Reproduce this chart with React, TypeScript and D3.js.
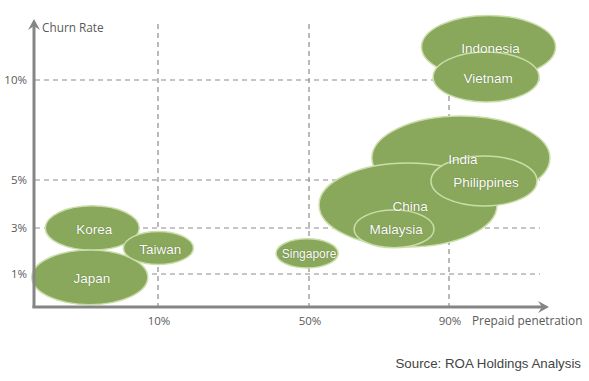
import React from "react";
import * as d3 from "d3";

const countries = ["Indonesia", "Vietnam", "Korea", "Japan", "Taiwan", "Singapore", "India", "China", "Philippines", "Malaysia"];
const prepaid = [101.3, 100.6, 4.7, 4.5, 10.1, 49.5, 93.4, 78.3, 100.0, 74.3];
const churn = [11.65, 10.15, 3.0, 0.9, 2.13, 1.9, 6.1, 3.96, 4.96, 2.96];
const bubbleSize = [67, 53, 47, 58, 35, 31, 89, 89, 53, 40];

const xTicks = [10, 50, 90];
const xTickLabels = ["10%", "50%", "90%"];
const yTicks = [1, 3, 5, 10];
const yTickLabels = ["1%", "3%", "5%", "10%"];

export default function App() {
  const W = 589, H = 381;
  const x = d3.scaleLinear().domain([0, 10, 50, 90]).range([34, 158, 309, 449]);
  const y = d3.scaleLinear().domain([0, 1, 3, 5, 10]).range([307, 274, 228, 180, 80]);
  const rx = d3.scaleLinear().domain([0, 89]).range([0, 89]);
  const aspect = 2.12;
  const axisColor = "#858585";
  const gridColor = "#8c8c8c";
  const textColor = "#5a5a5a";
  const font = "'Open Sans', sans-serif";
  const idx = d3.range(countries.length);
  const xAxisRight = 548;
  return (
    <svg width={W} height={H} style={{ position: "absolute", left: 0, top: 0 }}>
      <rect width={W} height={H} fill="#fff" />
      {yTicks.map((t) => (
        <line key={"gy" + t} x1={35} x2={540} y1={y(t)} y2={y(t)} stroke={gridColor} strokeWidth={1.2} strokeDasharray="5,4" />
      ))}
      {xTicks.map((t) => (
        <line key={"gx" + t} x1={x(t)} x2={x(t)} y1={24} y2={306} stroke={gridColor} strokeWidth={1.2} strokeDasharray="5,4" />
      ))}
      {idx.map((i) => {
        const r = rx(bubbleSize[i]);
        return (
          <ellipse key={"e" + i} cx={x(prepaid[i])} cy={y(churn[i])} rx={r} ry={r / aspect}
            fill="#8aa85c" stroke="#cadeaa" strokeWidth={1.5} />
        );
      })}
      {idx.map((i) => (
        <text key={"t" + i} x={x(prepaid[i]) + 2} y={y(churn[i]) + 2} textAnchor="middle" dominantBaseline="middle"
          fill="#fff" fontFamily="'Liberation Sans', Arial, sans-serif" fontSize={countries[i] === "Singapore" ? 12 : 13.5}
          style={{ textShadow: "0 0 1px rgba(60,80,30,0.7)" }}>
          {countries[i]}
        </text>
      ))}
      <line x1={34} x2={34} y1={308} y2={24} stroke={axisColor} strokeWidth={3} />
      <path d="M28,30 L34,19 L40,30 L34,26 Z" fill={axisColor} />
      <line x1={32.5} x2={xAxisRight - 4} y1={307} y2={307} stroke={axisColor} strokeWidth={3} />
      <path d={`M${xAxisRight - 10},301 L${xAxisRight + 1},307 L${xAxisRight - 10},313 L${xAxisRight - 6},307 Z`} fill={axisColor} />
      <text x={42} y={32} fill={textColor} fontFamily={font} fontSize={11.8}>Churn Rate</text>
      {yTicks.map((t, i) => (
        <text key={"yl" + t} x={27} y={y(t) + 4} textAnchor="end" fill={textColor} fontFamily={font} fontSize={11.5}>{yTickLabels[i]}</text>
      ))}
      {xTicks.map((t, i) => (
        <text key={"xl" + t} x={x(t) + 1} y={325} textAnchor="middle" fill={textColor} fontFamily={font} fontSize={11.5}>{xTickLabels[i]}</text>
      ))}
      <text x={472} y={325} fill={textColor} fontFamily={font} fontSize={11.8}>Prepaid penetration</text>
      <text x={581} y={368} textAnchor="end" fill="#444" fontFamily="'Liberation Sans', Arial, sans-serif" fontSize={13.3}>Source: ROA Holdings Analysis</text>
    </svg>
  );
}
